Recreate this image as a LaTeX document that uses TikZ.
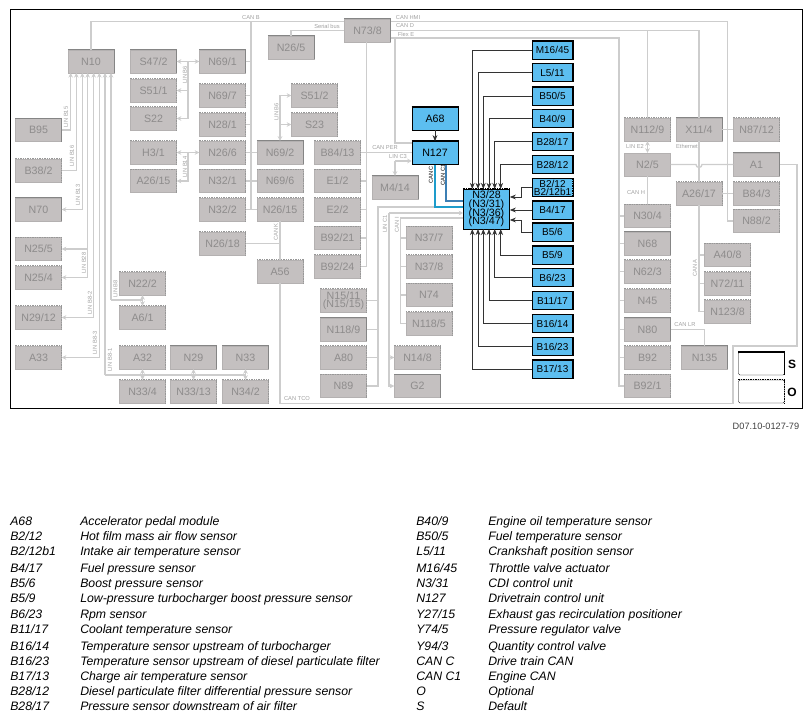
\documentclass[tikz,border=0pt]{standalone}
\usepackage{fontspec}
\setmainfont{Liberation Sans}
\usepackage{xcolor}
\usetikzlibrary{arrows.meta, calc}
\definecolor{boxgray}{HTML}{C4C0C0}
\definecolor{boxedge}{HTML}{858585}
\definecolor{txtgray}{HTML}{8E8C8C}
\definecolor{wiregray}{HTML}{CDCDCD}
\definecolor{lablgray}{HTML}{A0A0A0}
\definecolor{ecublue}{HTML}{5CBEF0}
\definecolor{canc}{HTML}{1E9CCB}
\definecolor{cancone}{HTML}{3C7FB4}
\newcommand{\tightlines}{\lineskip=0pt \lineskiplimit=-10pt \relax}
\tikzset{
  gbox/.style={rectangle, draw=boxgray!92!black, line width=0.3pt, fill=boxgray, text=txtgray, font=\fontsize{8}{8}\selectfont, align=center, inner sep=0pt, minimum width=34.5pt, minimum height=17.25pt},
  bbox/.style={rectangle, draw=black, line width=0.4pt, fill=ecublue, text=black, font=\fontsize{8}{8}\selectfont, align=center, inner sep=0pt, minimum width=34.5pt, minimum height=17.25pt},
  sbox/.style={bbox, font=\fontsize{7.5}{7.5}\selectfont, minimum width=30.4pt, minimum height=13.2pt},
  keybox/.style={rectangle, draw=black, line width=0.3pt, rounded corners=1pt, fill=white, inner sep=0pt, minimum width=34.5pt, minimum height=17.25pt},
  solidedge/.style={draw=boxedge, line width=1pt},
  dotedge/.style={draw=boxedge!85, line width=0.8pt, dash pattern=on 1.1pt off 0.7pt},
  wire/.style={draw=wiregray, line width=1pt},
  wirea/.style={wire, -{Stealth[length=3.4pt,width=3.4pt]}},
  wired/.style={wire, {Stealth[length=3.4pt,width=3.4pt]}-{Stealth[length=3.4pt,width=3.4pt]}},
  sig/.style={draw=black!80, line width=0.65pt, -{Stealth[length=4.6pt,width=3.6pt]}},
  wlab/.style={text=lablgray, font=\fontsize{4.3}{5}\selectfont, inner sep=0pt},
  clab/.style={text=black, font=\fontsize{4.3}{5}\selectfont, inner sep=0pt, rotate=90},
  legk/.style={anchor=base west, inner sep=0pt, font=\fontsize{9.2}{9.2}\itshape\selectfont},
}
\begin{document}
\begin{tikzpicture}[x=0.75pt,y=-0.75pt]
  \useasboundingbox (0,0) rectangle (811,720);
  \node[draw=black, line width=0.75pt, minimum width=594pt, minimum height=299pt, inner sep=0pt, anchor=north west] (frame) at (9.5,9.5) {};

  % gray units, left part
  \node[gbox] (n10) at (91,61.5) {N10};
  \node[gbox] (s47-2) at (153.5,61.5) {S47/2};
  \node[gbox] (n69-1) at (222.5,61.5) {N69/1};
  \node[gbox] (s51-1) at (153.5,90.5) {S51/1};
  \node[gbox] (n69-7) at (222.5,95.5) {N69/7};
  \node[gbox] (s22) at (153.5,118.5) {S22};
  \node[gbox] (n28-1) at (222.5,124.5) {N28/1};
  \node[gbox] (b95) at (38.5,130) {B95};
  \node[gbox] (b38-2) at (38.5,170.5) {B38/2};
  \node[gbox] (n70) at (38.5,209.5) {N70};
  \node[gbox] (h3-1) at (153.5,152.5) {H3/1};
  \node[gbox] (n26-6) at (222.5,152.5) {N26/6};
  \node[gbox] (n69-2) at (280,152.5) {N69/2};
  \node[gbox] (b84-13) at (337.5,152.5) {B84/13};
  \node[gbox] (a26-15) at (153.5,181) {A26/15};
  \node[gbox] (n32-1) at (222.5,181) {N32/1};
  \node[gbox] (n69-6) at (280,181) {N69/6};
  \node[gbox] (e1-2) at (337.5,181) {E1/2};
  \node[gbox] (n32-2) at (222.5,209.5) {N32/2};
  \node[gbox] (n26-15) at (280,209.5) {N26/15};
  \node[gbox] (e2-2) at (337.5,209.5) {E2/2};
  \node[gbox] (n26-18) at (222.5,243.5) {N26/18};
  \node[gbox] (a56) at (280,271.5) {A56};
  \node[gbox] (b92-21) at (337.5,238) {B92/21};
  \node[gbox] (b92-24) at (337.5,266.5) {B92/24};
  \node[gbox] (n25-5) at (38.5,249) {N25/5};
  \node[gbox] (n25-4) at (38.5,277.5) {N25/4};
  \node[gbox] (n22-2) at (142.5,283.5) {N22/2};
  \node[gbox] (a6-1) at (142.5,317.5) {A6/1};
  \node[gbox] (n29-12) at (38.5,317.5) {N29/12};
  \node[gbox] (a33) at (38.5,357.5) {A33};
  \node[gbox] (a32) at (142.5,357.5) {A32};
  \node[gbox] (n29) at (193.5,357.5) {N29};
  \node[gbox] (n33) at (245.5,357.5) {N33};
  \node[gbox] (n33-4) at (142.5,391.5) {N33/4};
  \node[gbox] (n33-13) at (193.5,391.5) {N33/13};
  \node[gbox] (n34-2) at (245.5,391.5) {N34/2};

  % gray units, middle part
  \node[gbox] (n73-8) at (367.5,30.5) {N73/8};
  \node[gbox] (n26-5) at (291,47.5) {N26/5};
  \node[gbox] (s51-2) at (314.5,95.5) {S51/2};
  \node[gbox] (s23) at (314.5,124.5) {S23};
  \node[gbox] (m4-14) at (395,187.5) {M4/14};
  \node[gbox] (n37-7) at (429,238) {N37/7};
  \node[gbox] (n37-8) at (429,266.5) {N37/8};
  \node[gbox] (n74) at (429,295) {N74};
  \node[gbox] (n118-5) at (429,323.5) {N118/5};
  \node[gbox, font=\fontsize{8}{5.8}\selectfont\tightlines] (n15-11) at (343.5,300.5) {N15/11\\(N15/15)};
  \node[gbox] (n118-9) at (343.5,329.5) {N118/9};
  \node[gbox] (a80) at (343.5,357.5) {A80};
  \node[gbox] (n89) at (343.5,386) {N89};
  \node[gbox] (n14-8) at (417.5,357.5) {N14/8};
  \node[gbox] (g2) at (417.5,386) {G2};

  % gray units, right part
  \node[gbox] (n112-9) at (647.5,129.5) {N112/9};
  \node[gbox] (x11-4) at (699,129.5) {X11/4};
  \node[gbox] (n87-12) at (756.5,129.5) {N87/12};
  \node[gbox] (n2-5) at (647.5,164.5) {N2/5};
  \node[gbox] (a1) at (756.5,164.5) {A1};
  \node[gbox] (a26-17) at (699,193.5) {A26/17};
  \node[gbox] (b84-3) at (756.5,193.5) {B84/3};
  \node[gbox] (n30-4) at (647.5,216) {N30/4};
  \node[gbox] (n88-2) at (756.5,221) {N88/2};
  \node[gbox] (n68) at (647.5,243.5) {N68};
  \node[gbox] (a40-8) at (727.5,255) {A40/8};
  \node[gbox] (n62-3) at (647.5,271.5) {N62/3};
  \node[gbox] (n72-11) at (727.5,283.5) {N72/11};
  \node[gbox] (n45) at (647.5,300.5) {N45};
  \node[gbox] (n123-8) at (727.5,311.5) {N123/8};
  \node[gbox] (n80) at (647.5,329.5) {N80};
  \node[gbox] (n135) at (704.5,357.5) {N135};
  \node[gbox] (b92) at (647.5,357.5) {B92};
  \node[gbox] (b92-1) at (647.5,386) {B92/1};

  % blue units
  \node[bbox] (a68) at (435,118.5) {A68};
  \node[bbox] (n127) at (435,153) {N127};
  \node[bbox, minimum height=30pt, font=\fontsize{8}{6.5}\selectfont\tightlines] (n3-28) at (486.5,209) {N3/28\\(N3/31)\\(N3/36)\\(N3/47)};
  \node[sbox] (m16-45) at (552.5,50) {M16/45};
  \node[sbox] (l5-11) at (552.5,72.5) {L5/11};
  \node[sbox] (b50-5) at (552.5,96) {B50/5};
  \node[sbox] (b40-9) at (552.5,118.5) {B40/9};
  \node[sbox] (b28-17) at (552.5,141.5) {B28/17};
  \node[sbox] (b28-12) at (552.5,164.5) {B28/12};
  \node[sbox, font=\fontsize{7.5}{6}\selectfont\tightlines] (b2-12) at (552.5,187.5) {B2/12\\B2/12b1};
  \node[sbox] (b4-17) at (552.5,210) {B4/17};
  \node[sbox] (b5-6) at (552.5,232) {B5/6};
  \node[sbox] (b5-9) at (552.5,255) {B5/9};
  \node[sbox] (b6-23) at (552.5,277.5) {B6/23};
  \node[sbox] (b11-17) at (552.5,300.5) {B11/17};
  \node[sbox] (b16-14) at (552.5,323.5) {B16/14};
  \node[sbox] (b16-23) at (552.5,346.5) {B16/23};
  \node[sbox] (b17-13) at (552.5,369) {B17/13};

  % key boxes
  \node[keybox] (keys) at (761.5,363.5) {};
  \node[keybox] (keyo) at (761.5,391.5) {};
  \node[font=\bfseries\fontsize{9}{9}\selectfont, inner sep=0pt] (labs) at (792,364) {S};
  \node[font=\bfseries\fontsize{9}{9}\selectfont, inner sep=0pt] (labo) at (792,392) {O};

  % top and right edges of the units
  \foreach \n in {n10,s47-2,n69-1,b95,n70,n29,n33,n69-2,n73-8,n26-5,m4-14,n118-9,g2,x11-4,a1,n68,n80,n135}
    \draw[solidedge] (\n.north west) -- (\n.north east) -- (\n.south east);
  \foreach \n in {s51-1,n69-7,s22,n28-1,b38-2,h3-1,n26-6,b84-13,a26-15,n32-1,n69-6,e1-2,n32-2,n26-15,e2-2,n26-18,a56,b92-21,b92-24,n25-5,n25-4,n22-2,a6-1,n29-12,a33,a32,n33-4,n33-13,n34-2,s51-2,s23,n37-7,n37-8,n74,n118-5,n15-11,a80,n89,n14-8,n112-9,n87-12,a26-17,b84-3,n30-4,n88-2,a40-8,n62-3,n72-11,n45,n123-8,b92,b92-1}
    \draw[dotedge] (\n.north west) -- (\n.north east) -- (\n.south east);
  \foreach \n in {a68,n127,m16-45,l5-11,b50-5,b40-9,b28-17,b28-12,b4-17,b5-6,b5-9,b6-23,b11-17,b16-14,b16-23,b17-13,keys}
    \draw[draw=black, line width=1.1pt] (\n.north west) -- (\n.north east) -- (\n.south east);
  \foreach \n in {n3-28,b2-12,keyo}
    \draw[draw=black, line width=0.9pt, dash pattern=on 1.1pt off 0.7pt] (\n.north west) -- (\n.north east) -- (\n.south east);

  % bus columns
  \coordinate (busb) at (251,21.5);
  \coordinate (busk) at (280,209.5);
  \coordinate (busm) at (366.5,42);
  \coordinate (busf) at (619,38);
  \coordinate (bush) at (727.5,21.5);
  \coordinate (busa) at (699,205);
  \coordinate (busc) at (378,207);
  \coordinate (busl) at (389,213);
  \coordinate (busi) at (400.5,218);
  \coordinate (linl) at (188,61.5);
  \coordinate (linm) at (188,152.5);

  % CAN B
  \draw[wire] (n10.north) |- (n73-8.west |- busb);
  \draw[wire] (busb) -- (busb |- n32-2.east);
  \draw[wire] (n69-1.east) -- (busb |- n69-1.east);
  \draw[wire] (n69-7.east) -- (busb |- n69-7.east);
  \draw[wire] (n28-1.east) -- (busb |- n28-1.east);
  \draw[wire] (n26-6.east) -- (n69-2.west);
  \draw[wire] (n32-1.east) -- (n69-6.west);
  \draw[wire] (n32-2.east) -- (n26-15.west);

  % CAN K and CAN TCO
  \draw[wire] (n26-15.south) -- (a56.north);
  \draw[wire] (n26-18.east) -- (busk |- n26-18.east);
  \draw[wire] (a56.south) |- (733,403.5) |- (797,346) |- (a1.east);

  % buses of N73/8
  \draw[wire] (n73-8.west) -| (n26-5.north);
  \draw[wire] (n73-8.east |- bush) -- (bush) -- (bush |- n88-2.west) -- (n88-2.west);
  \draw[wire] (n73-8.east) -| (x11-4.north);
  \draw[wire] (n73-8.east |- busf) -- (busf) |- (b92-1.west);
  \draw[wire] (n112-9.north) -- (n112-9.north |- n73-8.east);
  \draw[wire] (395,38) |- (n127.west |- 0,143);
  \draw[wire] (busm) |- (b92-24.east);
  \draw[wire] (b84-13.east) -- (n127.west |- b84-13.east);
  \draw[wire] (e1-2.east) -- (busm |- e1-2.east);
  \draw[wire] (e2-2.east) -- (busm |- e2-2.east);
  \draw[wire] (b92-21.east) -- (busm |- b92-21.east);
  \draw[wirea] (395,161) -- (n127.west |- 0,161);
  \draw[wirea] (395,161) -- (m4-14.north);

  % Flex E branches
  \foreach \n in {n30-4,n68,n62-3,n45,n80,b92}
    \draw[wire] (\n.west) -- (busf |- \n.west);

  % right side
  \draw[wire] (x11-4.south) -- (a26-17.north);
  \draw[wire] (a26-17.south) -- (busa |- n123-8.west) -- (n123-8.west);
  \draw[wire] (a40-8.west) -- (busa |- a40-8.west);
  \draw[wire] (n72-11.west) -- (busa |- n72-11.west);
  \draw[wired] (n112-9.south) -- (n2-5.north);
  \draw[wire] (n2-5.south) -- (n30-4.north);
  \draw[wire] (n2-5.east) -- (696,164.5) arc (180:0:3) -- (a1.west);
  \draw[wire] (x11-4.east) -- (n87-12.west);
  \draw[wire] (a26-17.east) -- (b84-3.west);
  \draw[wire] (n80.east) -| (n135.north);

  % lines into and out of N3/28
  \draw[wire] (n3-28.west |- busc) -- (busc) |- (n89.east);
  \draw[wire] (n15-11.east) -- (busc |- n15-11.east);
  \draw[wire] (n118-9.east) -- (busc |- n118-9.east);
  \draw[wire] (a80.east) -- (busc |- a80.east);
  \draw[wirea] (busl) -- (n3-28.west |- busl);
  \draw[wirea] (busl) |- (g2.west);
  \draw[wirea] (busl |- n14-8.west) -- (n14-8.west);
  \draw[wire] (n3-28.west |- busi) -- (busi) |- (n118-5.west);
  \draw[wire] (n37-7.west) -- (busi |- n37-7.west);
  \draw[wire] (n37-8.west) -- (busi |- n37-8.west);
  \draw[wire] (n74.west) -- (busi |- n74.west);

  % CAN C and CAN C1
  \draw[draw=canc, line width=1.2pt] (n127.south) |- (n3-28.west |- busc);
  \draw[draw=cancone, line width=1.2pt] (446,165) |- (n3-28.west |- 0,201);

  % sensors and actuator
  \draw[sig] (a68.south) -- (n127.north);
  \draw[sig] (m16-45.west) -| (472.3,189);
  \draw[sig] (l5-11.west) -| (478,189);
  \draw[sig] (b50-5.west) -| (483.3,189);
  \draw[sig] (b40-9.west) -| (489,189);
  \draw[sig] (b28-17.west) -| (494.7,189);
  \draw[sig] (b28-12.west) -| (500.7,189);
  \draw[sig] (b2-12.west) -| (521,197) -- (n3-28.east |- 0,197);
  \draw[sig] (b4-17.west) -- (n3-28.east |- b4-17.west);
  \draw[sig] (b5-6.west) -| (521,220) -- (n3-28.east |- 0,220);
  \draw[sig] (b5-9.west) -| (500.7,229);
  \draw[sig] (b6-23.west) -| (494.7,229);
  \draw[sig] (b11-17.west) -| (489,229);
  \draw[sig] (b16-14.west) -| (483.3,229);
  \draw[sig] (b16-23.west) -| (478,229);
  \draw[sig] (b17-13.west) -| (472.3,229);

  % LIN lines to N10
  \draw[wirea] (b95.east) -| (70.7,73);
  \draw[wirea] (b38-2.east) -| (76.3,73);
  \draw[wired] (n70.east) -| (82.3,73);
  \draw[wired] (n25-4.east) -| (87.7,73);
  \draw[wirea] (87.7,249) -- (n25-5.east);
  \draw[wired] (n29-12.east) -| (93.7,73);
  \draw[wired] (a33.east) -| (99.3,73);
  \draw[wirea] (105,375) -- (105,73);
  \draw[wire] (105,375) -- (245.5,375);
  \draw[wirea] (111,300) -- (111,73);
  \draw[wire] (111,300) -- (142.5,300);
  \draw[wired] (n22-2.south) -- (a6-1.north);
  \draw[wired] (a32.south) -- (n33-4.north);
  \draw[wired] (n29.south) -- (n33-13.north);
  \draw[wired] (n33.south) -- (n34-2.north);

  % LIN lines of the switches
  \draw[wired] (s47-2.east) -- (n69-1.west);
  \draw[wirea] (linl) |- (s22.east);
  \draw[wirea] (linl |- s51-1.east) -- (s51-1.east);
  \draw[wired] (h3-1.east) -- (n26-6.west);
  \draw[wirea] (linm) |- (a26-15.east);
  \draw[wirea] (n69-2.north |- s51-2.west) -- (n69-2.north);
  \draw[wirea] (n69-2.north |- s51-2.west) -- (s51-2.west);
  \draw[wirea] (n69-2.north |- s23.west) -- (s23.west);

  % bus labels
  \node[wlab] (lcanb) at (251,17.5) {CAN B};
  \node[wlab] (lser) at (327,26) {Serial bus};
  \node[wlab] (lhmi) at (408,17.5) {CAN HMI};
  \node[wlab] (lcand) at (405,26) {CAN D};
  \node[wlab] (lflex) at (406,34) {Flex E};
  \node[wlab] (lper) at (385,148) {CAN PER};
  \node[wlab] (lc3) at (398,157) {LIN C3};
  \node[clab] (lcc) at (431,175) {CAN C};
  \node[clab] (lcc1) at (443,175) {CAN C1};
  \node[wlab] (le2) at (635,147) {LIN E2};
  \node[wlab] (leth) at (687,146) {Ethernet};
  \node[wlab] (lcanh) at (636,192.7) {CAN H};
  \node[wlab, rotate=90] (lcana) at (695,268) {CAN A};
  \node[wlab] (lcanlr) at (685,325) {CAN LR};
  \node[wlab, rotate=90] (lcank) at (276,232) {CAN K};
  \node[wlab] (ltco) at (297,399) {CAN TCO};
  \node[wlab, rotate=90] (lc1) at (385,224) {LIN C1};
  \node[wlab, rotate=90] (lcani) at (397,225) {CAN I};
  \node[wlab, rotate=90] (lb15) at (66,117) {LIN B15};
  \node[wlab, rotate=90] (lb16) at (72,156) {LIN B16};
  \node[wlab, rotate=90] (lb13) at (78,195) {LIN B13};
  \node[wlab, rotate=90] (lb28) at (84,263) {LIN B28};
  \node[wlab, rotate=90] (lb82) at (90,303) {LIN B8-2};
  \node[wlab, rotate=90] (lb83) at (95,343) {LIN B8-3};
  \node[wlab, rotate=90] (lb81) at (110,360) {LIN B8-1};
  \node[wlab, rotate=90] (lb8) at (115.5,289) {LIN B8};
  \node[wlab, rotate=90] (lb6a) at (185,75) {LIN B6};
  \node[wlab, rotate=90] (lb14) at (185,167) {LIN B14};
  \node[wlab, rotate=90] (lb6b) at (276.5,112) {LIN B6};

  \node[anchor=east, inner sep=0pt, text=black!75, font=\fontsize{6.9}{8}\selectfont] (docno) at (799.5,426) {D07.10-0127-79};

  % legend
  \foreach \y/\k/\d [count=\i] in {
    521/A68/Accelerator pedal module,
    536/B2\slash 12/Hot film mass air flow sensor,
    551/B2\slash 12b1/Intake air temperature sensor,
    568/B4\slash 17/Fuel pressure sensor,
    583/B5\slash 6/Boost pressure sensor,
    598/B5\slash 9/Low-pressure turbocharger boost pressure sensor,
    614/B6\slash 23/Rpm sensor,
    629/B11\slash 17/Coolant temperature sensor,
    646/B16\slash 14/Temperature sensor upstream of turbocharger,
    661/B16\slash 23/Temperature sensor upstream of diesel particulate filter,
    676/B17\slash 13/Charge air temperature sensor,
    691/B28\slash 12/Diesel particulate filter differential pressure sensor,
    706/B28\slash 17/Pressure sensor downstream of air filter}
  {
    \node[legk] (kl\i) at (10,\y+4) {\k};
    \node[legk] (dl\i) at (80,\y+4) {\d};
  }
  \foreach \y/\k/\d [count=\i] in {
    521/B40\slash 9/Engine oil temperature sensor,
    536/B50\slash 5/Fuel temperature sensor,
    551/L5\slash 11/Crankshaft position sensor,
    568/M16\slash 45/Throttle valve actuator,
    583/N3\slash 31/CDI control unit,
    598/N127/Drivetrain control unit,
    614/Y27\slash 15/Exhaust gas recirculation positioner,
    629/Y74\slash 5/Pressure regulator valve,
    646/Y94\slash 3/Quantity control valve,
    661/CAN C/Drive train CAN,
    676/CAN C1/Engine CAN,
    691/O/Optional,
    706/S/Default}
  {
    \node[legk] (kr\i) at (416,\y+4) {\k};
    \node[legk] (dr\i) at (488,\y+4) {\d};
  }
\end{tikzpicture}
\end{document}
